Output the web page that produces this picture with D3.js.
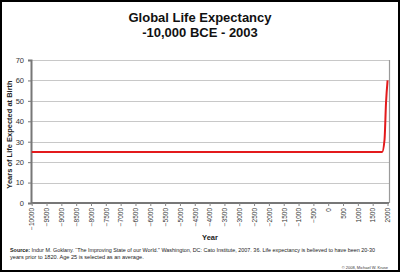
<!DOCTYPE html>
<html>
<head>
<meta charset="utf-8">
<script src="https://cdn.jsdelivr.net/npm/d3@7"></script>
<style>
  body { margin: 0; background: #fff; }
  svg { display: block; font-family: "Liberation Sans", Arial, sans-serif; }
</style>
</head>
<body>
<div id="chart"></div>
<script>
// data
var years = [-10000, 1820, 1900, 1950, 2003];
var lifeExp = [25, 25, 31, 49, 60];
var xTicks = d3.range(-10000, 2001, 500);
var yTicks = [0, 10, 20, 30, 40, 50, 60, 70];

var width = 400, height = 272;
var plotLeft = 31, plotRight = 389, plotTop = 60, plotBottom = 203;

var svg = d3.select('#chart').append('svg')
  .attr('width', width)
  .attr('height', height);

// outer border
svg.append('rect')
  .attr('x', 1).attr('y', 1)
  .attr('width', width - 2).attr('height', height - 2)
  .attr('fill', '#fff')
  .attr('stroke', '#000')
  .attr('stroke-width', 2);

var x = d3.scaleLinear().domain([-10000, 2000]).range([plotLeft + 0.7, 387.5]);
var y = d3.scaleLinear().domain([0, 70]).range([plotBottom, plotTop]);

// title
svg.append('text')
  .attr('x', 200).attr('y', 21.5)
  .attr('text-anchor', 'middle')
  .attr('font-size', 13).attr('font-weight', 'bold')
  .attr('fill', '#111')
  .text('Global Life Expectancy');
svg.append('text')
  .attr('x', 200).attr('y', 37)
  .attr('text-anchor', 'middle')
  .attr('font-size', 13).attr('font-weight', 'bold')
  .attr('fill', '#111')
  .text('-10,000 BCE - 2003');

// gridlines
svg.append('g').selectAll('line')
  .data(yTicks.filter(function(d) { return d > 0; }))
  .enter().append('line')
  .attr('x1', plotLeft).attr('x2', plotRight)
  .attr('y1', function(d) { return Math.round(y(d)) + 0.5; })
  .attr('y2', function(d) { return Math.round(y(d)) + 0.5; })
  .attr('stroke', '#c8c8c8')
  .attr('stroke-width', 1);

// right edge of plot
svg.append('line')
  .attr('x1', plotRight + 0.5).attr('x2', plotRight + 0.5)
  .attr('y1', plotTop).attr('y2', plotBottom)
  .attr('stroke', '#9a9a9a').attr('stroke-width', 1.2);

// y axis
var yAxis = svg.append('g')
  .attr('transform', 'translate(' + plotLeft + ',0)')
  .call(d3.axisLeft(y).tickValues(yTicks).tickSize(3).tickPadding(4));
yAxis.select('.domain').attr('stroke', '#777').attr('stroke-width', 2);
yAxis.selectAll('.tick line').attr('stroke', '#777');
yAxis.selectAll('text').attr('font-size', 7.5).attr('fill', '#333')
  .attr('font-family', '"Liberation Sans", Arial, sans-serif');

// x axis
var xAxis = svg.append('g')
  .attr('transform', 'translate(0,' + plotBottom + ')')
  .call(d3.axisBottom(x).tickValues(xTicks).tickSize(3).tickFormat(d3.format('d')));
xAxis.select('.domain').attr('d', 'M' + plotLeft + ',0H' + plotRight)
  .attr('stroke', '#777').attr('stroke-width', 2);
xAxis.selectAll('.tick line').attr('stroke', '#888');
xAxis.selectAll('text')
  .attr('font-size', 6.5).attr('fill', '#333')
  .attr('font-family', '"Liberation Sans", Arial, sans-serif')
  .attr('transform', 'rotate(-90)')
  .attr('text-anchor', 'end')
  .attr('x', -5).attr('y', 0).attr('dy', '0.35em');

// y label
svg.append('text')
  .attr('transform', 'translate(11.5,' + ((plotTop + plotBottom) / 2 + 3) + ') rotate(-90)')
  .attr('text-anchor', 'middle')
  .attr('font-size', 7.5).attr('font-weight', 'bold')
  .attr('fill', '#222')
  .text('Years of Life Expected at Birth');

// x label
svg.append('text')
  .attr('x', (plotLeft + plotRight) / 2).attr('y', 240)
  .attr('text-anchor', 'middle')
  .attr('font-size', 7.5).attr('font-weight', 'bold')
  .attr('fill', '#222')
  .text('Year');

// series line
var line = d3.line()
  .x(function(d, i) { return x(years[i]); })
  .y(function(d) { return y(d); })
  .curve(d3.curveMonotoneX);
svg.append('path')
  .datum(lifeExp)
  .attr('d', line)
  .attr('fill', 'none')
  .attr('stroke', '#e31a1c')
  .attr('stroke-width', 2);

// source note
var src = svg.append('text')
  .attr('x', 10).attr('y', 251.5)
  .attr('font-size', 5.6).attr('fill', '#222')
  .attr('textLength', 365).attr('lengthAdjust', 'spacingAndGlyphs');
src.append('tspan').attr('font-weight', 'bold').text('Source:');
src.append('tspan').text(' Indur M. Goklany. \u201CThe Improving State of our World.\u201D Washington, DC: Cato Institute, 2007. 36. Life expectancy is believed to have been 20-30');
svg.append('text')
  .attr('x', 10).attr('y', 259)
  .attr('font-size', 5.6).attr('fill', '#222')
  .text('years prior to 1820. Age 25 is selected as an average.');

svg.append('text')
  .attr('x', 388).attr('y', 269)
  .attr('text-anchor', 'end')
  .attr('font-size', 4).attr('fill', '#333')
  .text('\u00A9 2008, Michael W. Kruse');
</script>
</body>
</html>
